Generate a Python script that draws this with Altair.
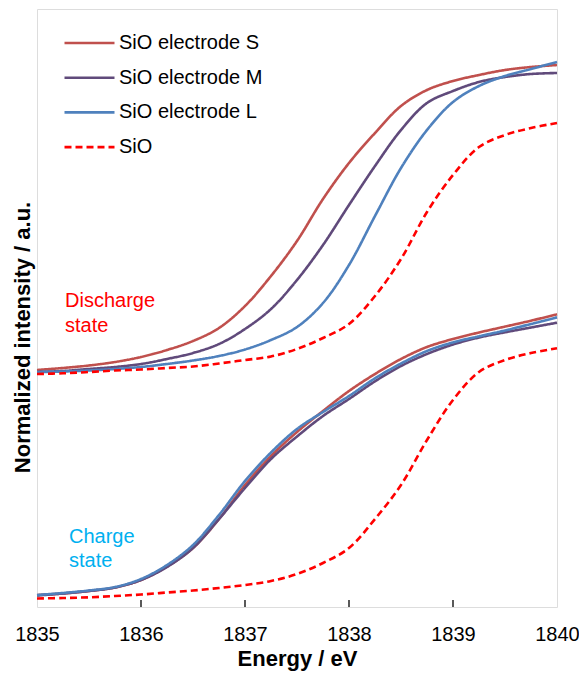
import altair as alt
import pandas as pd

energy = [1835.0, 1835.25, 1835.5, 1835.75, 1836.0, 1836.25, 1836.5, 1836.75, 1837.0, 1837.25,
          1837.5, 1837.75, 1838.0, 1838.25, 1838.5, 1838.75, 1839.0, 1839.25, 1839.5, 1839.75, 1840.0]

# Discharge state (offset upward)
dis_S = [2.37, 2.39, 2.415, 2.45, 2.50, 2.57, 2.66, 2.79, 3.01, 3.31, 3.66, 4.08, 4.44, 4.74, 5.01,
         5.17, 5.26, 5.32, 5.37, 5.40, 5.42]
dis_M = [2.35, 2.36, 2.38, 2.40, 2.43, 2.48, 2.54, 2.63, 2.78, 2.98, 3.27, 3.62, 4.02, 4.41, 4.77,
         5.04, 5.16, 5.25, 5.30, 5.33, 5.34]
dis_L = [2.35, 2.355, 2.365, 2.38, 2.40, 2.43, 2.465, 2.51, 2.575, 2.67, 2.80, 3.04, 3.42, 3.91, 4.39,
         4.77, 5.05, 5.21, 5.31, 5.38, 5.45]
dis_SiO = [2.33, 2.337, 2.35, 2.365, 2.375, 2.39, 2.405, 2.435, 2.47, 2.505, 2.58, 2.69, 2.83, 3.11, 3.48,
           3.95, 4.32, 4.60, 4.72, 4.79, 4.84]

# Charge state
chg_S = [0.12, 0.135, 0.16, 0.195, 0.27, 0.405, 0.59, 0.88, 1.22, 1.51, 1.75, 1.96, 2.16, 2.33, 2.48,
         2.60, 2.68, 2.745, 2.804, 2.863, 2.927]
chg_M = [0.115, 0.135, 0.16, 0.195, 0.27, 0.40, 0.59, 0.88, 1.19, 1.48, 1.705, 1.91, 2.08, 2.257, 2.41,
         2.53, 2.625, 2.695, 2.747, 2.795, 2.843]
chg_L = [0.12, 0.14, 0.165, 0.20, 0.28, 0.42, 0.62, 0.92, 1.26, 1.545, 1.78, 1.95, 2.11, 2.287, 2.435,
         2.56, 2.646, 2.707, 2.765, 2.83, 2.897]
chg_SiO = [0.085, 0.09, 0.097, 0.11, 0.125, 0.145, 0.165, 0.19, 0.22, 0.26, 0.33, 0.44, 0.59, 0.88, 1.22,
           1.67, 2.07, 2.35, 2.47, 2.54, 2.587]

series_names = ["SiO electrode S", "SiO electrode M", "SiO electrode L", "SiO"]
series_colors = ["#C0504D", "#604A7B", "#4F81BD", "#FF0000"]
tick_values = [1835, 1836, 1837, 1838, 1839, 1840]
inner_ticks = [1836, 1837, 1838, 1839]

rows = []
for state, sets in [("Discharge", [dis_S, dis_M, dis_L, dis_SiO]),
                    ("Charge", [chg_S, chg_M, chg_L, chg_SiO])]:
    for name, vals in zip(series_names, sets):
        for e, v in zip(energy, vals):
            rows.append({"E": e, "I": v, "series": name, "state": state})
df = pd.DataFrame(rows)

FONT = "Liberation Sans"
W, H = 520, 598

x_scale = alt.Scale(domain=[1835, 1840], nice=False)
y_scale = alt.Scale(domain=[0, 5.98], nice=False, zero=False)

legend = alt.Legend(
    title=None, orient="none", legendX=26, legendY=24,
    symbolType="stroke", symbolSize=2500, symbolStrokeWidth=2.6,
    labelFont=FONT, labelFontSize=20, labelColor="black", labelOffset=3,
    clipHeight=20, rowPadding=14.7, padding=0,
)

lines = alt.Chart(df).mark_line(interpolate="catmull-rom").encode(
    x=alt.X("E:Q", scale=x_scale,
            axis=alt.Axis(values=tick_values, format="d", ticks=False, tickSize=0, domain=False,
                          grid=False, labelFlush=False, labelFont=FONT, labelFontSize=20,
                          labelColor="black", labelPadding=17, title="Energy / eV", titleFont=FONT,
                          titleFontSize=22, titleFontWeight="bold", titleColor="black",
                          titlePadding=4)),
    y=alt.Y("I:Q", scale=y_scale,
            axis=alt.Axis(labels=False, ticks=False, domain=False, grid=False,
                          title="Normalized intensity / a.u.", titleFont=FONT, titleFontSize=22,
                          titleFontWeight="bold", titleColor="black", titlePadding=3, titleY=328)),
    color=alt.Color("series:N", scale=alt.Scale(domain=series_names, range=series_colors), legend=legend),
    strokeDash=alt.StrokeDash("series:N",
                              scale=alt.Scale(domain=series_names, range=[[1, 0], [1, 0], [1, 0], [7, 4]]),
                              legend=legend),
    strokeWidth=alt.StrokeWidth("series:N", scale=alt.Scale(domain=series_names, range=[2.6, 2.6, 2.6, 3]),
                                legend=None),
    detail="state:N",
    order="E:Q",
)

ticks = alt.Chart(pd.DataFrame({"t": inner_ticks})).mark_rule(color="black", strokeWidth=1.3).encode(
    x=alt.X("t:Q", scale=x_scale),
    y=alt.value(H - 7),
    y2=alt.value(H),
)

dis_text = alt.Chart(pd.DataFrame({"t": ["Discharge\nstate"]})).mark_text(
    align="left", baseline="alphabetic", font=FONT, fontSize=20, color="#FF0000",
    lineBreak="\n", lineHeight=25,
).encode(text="t:N", x=alt.value(28), y=alt.value(298))

chg_text = alt.Chart(pd.DataFrame({"t": ["Charge\nstate"]})).mark_text(
    align="left", baseline="alphabetic", font=FONT, fontSize=20, color="#00B0F0",
    lineBreak="\n", lineHeight=24,
).encode(text="t:N", x=alt.value(32), y=alt.value(534))

chart = alt.layer(lines, ticks, dis_text, chg_text).properties(
    width=W, height=H,
    autosize=alt.AutoSizeParams(type="none"),
    padding={"left": 29, "top": 1, "right": 22, "bottom": 64},
).configure_view(stroke="#222222", strokeWidth=1.5).configure(background="white")

chart.save("out.html", embed_options={"renderer": "svg", "actions": False})
